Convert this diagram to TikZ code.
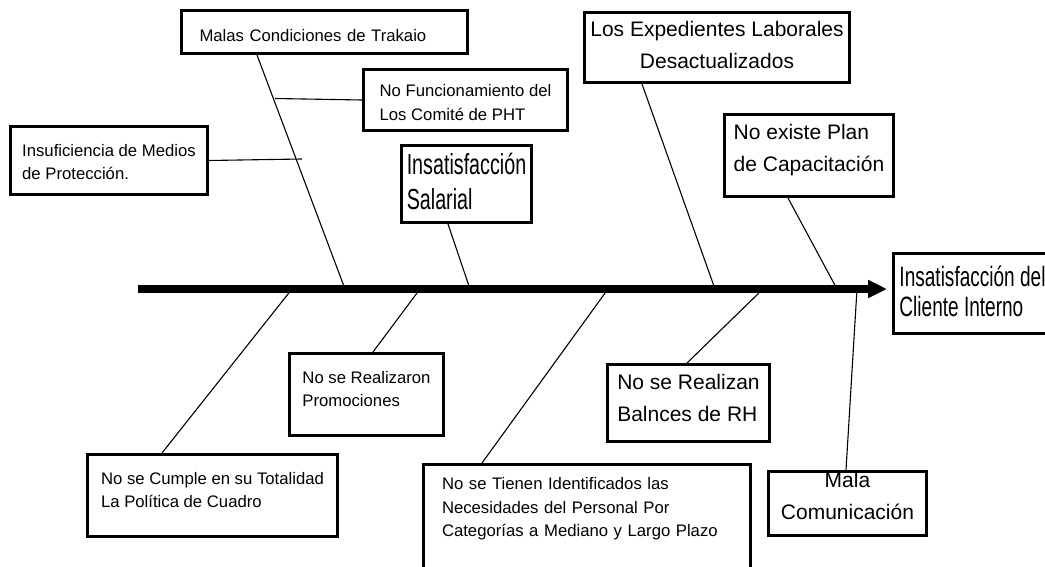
\documentclass[tikz,border=0pt]{standalone}
\usepackage{fontspec}
\setmainfont{Liberation Sans}
\newfontfamily\narrowsf[FakeStretch=0.68]{Liberation Sans}
\usepackage{tikz}
\usetikzlibrary{arrows.meta}

\tikzset{
  causebox/.style={draw, line width=3pt, inner sep=0pt, anchor=north west, align=left},
  smalltxt/.style={font=\fontsize{16.7}{23.5}\selectfont},
  midtxt/.style={font=\fontsize{21}{32}\selectfont},
  bigtxt/.style={font=\narrowsf\fontsize{29}{35}\selectfont},
  bone/.style={line width=1.1pt},
  spine/.style={line width=8pt, -{Triangle[length=19pt,width=17pt]}}
}

\begin{document}
\begin{tikzpicture}[x=1pt,y=-1pt]
  \useasboundingbox (0,0) rectangle (1045,567);
  % effect
  \node[causebox, font=\narrowsf\fontsize{28}{30}\selectfont, minimum width=158pt, minimum height=80pt, text height=63pt, text depth=17pt] (effect) at (892,252) {Insatisfacción del\\Cliente Interno};
  % causes above the spine
  \node[causebox, smalltxt, text width=250pt, minimum width=286pt, minimum height=43pt, text height=31pt, text depth=12pt] (malas) at (180,9) {Malas Condiciones de Trakaio};
  \node[causebox, smalltxt, minimum width=204pt, minimum height=61pt, text height=51pt, text depth=10pt] (func) at (362,68) {No Funcionamiento del\\Los Comité de PHT};
  \node[causebox, smalltxt, minimum width=197pt, minimum height=68pt, text height=53pt, text depth=15pt] (insuf) at (9,125) {Insuficiencia de Medios\\de Protección.};
  \node[causebox, bigtxt, minimum width=130pt, minimum height=77pt, text height=64pt, text depth=13pt] (salar) at (400,144) {Insatisfacción\\Salarial};
  \node[causebox, midtxt, align=center, minimum width=265pt, minimum height=70pt, text height=56pt, text depth=14pt] (exped) at (583,11) {Los Expedientes Laborales\\Desactualizados};
  \node[causebox, midtxt, minimum width=169pt, minimum height=82pt, text height=57pt, text depth=25pt] (plan) at (723,113) {No existe Plan\\de Capacitación};
  % causes below the spine
  \node[causebox, smalltxt, minimum width=154pt, minimum height=82pt, text height=53pt, text depth=29pt] (promo) at (288,352) {No se Realizaron\\Promociones};
  \node[causebox, smalltxt, minimum width=250pt, minimum height=82pt, text height=53pt, text depth=29pt] (cumple) at (86,453) {No se Cumple en su Totalidad\\La Política de Cuadro};
  \node[causebox, smalltxt, text width=290pt, minimum width=327pt, minimum height=109pt, text height=25pt, text depth=84pt] (tienen) at (422,463) {No se Tienen Identificados las\\Necesidades del Personal Por\\Categorías a Mediano y Largo Plazo};
  \node[causebox, midtxt, minimum width=162pt, minimum height=77pt, text height=57pt, text depth=20pt] (balan) at (606,363) {No se Realizan\\Balnces de RH};
  \node[causebox, midtxt, align=center, minimum width=158pt, minimum height=64pt, text height=48pt, text depth=16pt] (mala) at (767,470) {Mala\\Comunicación};

  % spine
  \coordinate (tail) at (138,289);
  \draw[spine, shorten >=5pt] (tail) -- (tail -| effect.west);

  % points on the spine
  \coordinate (s1) at (345,289);
  \coordinate (s2) at (470,289);
  \coordinate (s3) at (715,289);
  \coordinate (s4) at (837,289);
  \coordinate (s5) at (292,289);
  \coordinate (s6) at (420,289);
  \coordinate (s7) at (608,289);
  \coordinate (s8) at (763,289);
  \coordinate (s9) at (857,289);
  % points on the Malas bone
  \coordinate (b1) at (275,98.5);
  \coordinate (b2) at (302,159);

  \draw[bone] ([shift={(77,0)}]malas.south west) -- (s1);
  \draw[bone] (func.west) -- (b1);
  \draw[bone] (insuf.east) -- (b2);
  \draw[bone] ([shift={(48,0)}]salar.south west) -- (s2);
  \draw[bone] ([shift={(59,0)}]exped.south west) -- (s3);
  \draw[bone] ([shift={(65,0)}]plan.south west) -- (s4);
  \draw[bone] (s5) -- ([shift={(76,0)}]cumple.north west);
  \draw[bone] (s6) -- ([shift={(85,0)}]promo.north west);
  \draw[bone] (s7) -- ([shift={(60,0)}]tienen.north west);
  \draw[bone] (s8) -- ([shift={(81,0)}]balan.north west);
  \draw[bone] (s9) -- ([shift={(79,0)}]mala.north west);
\end{tikzpicture}
\end{document}
